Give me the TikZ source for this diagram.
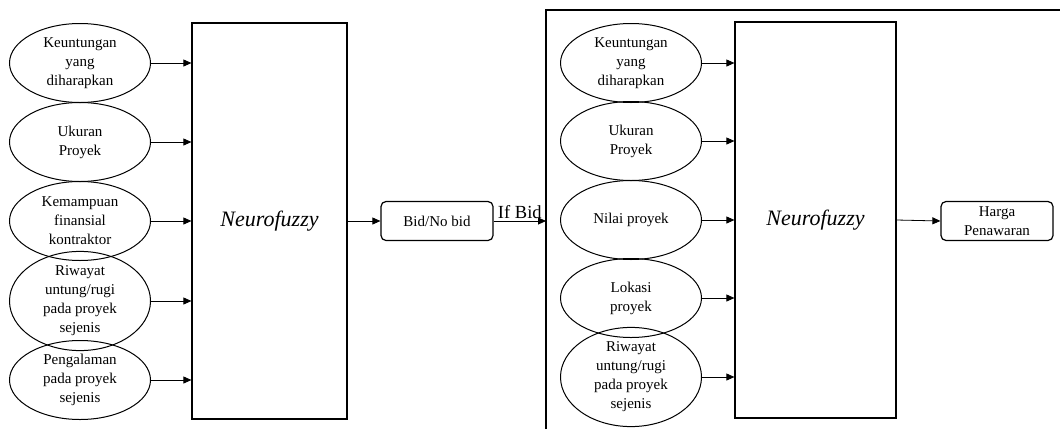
\documentclass[tikz,border=0pt]{standalone}
\usepackage{fontspec}
\setmainfont{Liberation Serif}
\usetikzlibrary{shapes.geometric,arrows.meta}
\begin{document}
\begin{tikzpicture}[x=1pt,y=-1pt,
  ell/.style={draw,line width=1pt,ellipse,minimum width=141pt,minimum height=79pt,inner sep=0pt,align=center,font=\fontsize{15}{19}\selectfont},
  bigbox/.style={draw,line width=1.2pt,minimum width=#1,minimum height=396pt,inner sep=0pt,font=\fontsize{22}{26}\selectfont\itshape},
  rbox/.style={draw,line width=1.2pt,rounded corners=5pt,minimum width=112pt,minimum height=39pt,inner sep=0pt,align=center,font=\fontsize{15}{19}\selectfont},
  arr/.style={line width=0.8pt,-{Triangle[length=8pt,width=7pt]}}]
\useasboundingbox (0,0) rectangle (1060,429);
% left panel
\node[ell] (a1) at (80,63) {Keuntungan\\yang\\diharapkan};
\node[ell] (a2) at (80,142) {Ukuran\\Proyek};
\node[ell] (a3) at (80,221) {Kemampuan\\finansial\\kontraktor};
\node[ell] (a4) at (80,301) {Riwayat\\untung/rugi\\pada proyek\\sejenis};
\node[ell] (a5) at (80,380) {Pengalaman\\pada proyek\\sejenis};
\node[bigbox=155pt] (n1) at (269.5,221) {\raisebox{-4pt}{Neurofuzzy}};
\foreach \i in {1,...,5}{\draw[arr] (a\i.east) -- (a\i.east -| n1.west);}
\node[rbox] (bid) at (437,221) {Bid/No bid};
\draw[arr] (n1.east) -- (bid.west);
% right frame
\coordinate (fr) at (546,221);
\draw[line width=1.2pt] (546,429) -- (546,10) -- (1060,10);
\draw[arr] (bid.east) -- (fr) node[midway,above=-1pt,font=\fontsize{18.5}{20}\selectfont] {If Bid};
% right panel
\node[ell] (b1) at (631,63) {Keuntungan\\yang\\diharapkan};
\node[ell] (b2) at (631,141) {Ukuran\\Proyek};
\node[ell] (b3) at (631,220) {Nilai proyek};
\node[ell] (b4) at (631,298) {Lokasi\\proyek};
\node[ell] (b5) at (631,377) {Riwayat\\untung/rugi\\pada proyek\\sejenis};
\node[bigbox=161pt] (n2) at (815.5,220) {\raisebox{-4pt}{Neurofuzzy}};
\foreach \i in {1,...,5}{\draw[arr] (b\i.east) -- (b\i.east -| n2.west);}
\node[rbox] (hp) at (997,221) {Harga\\Penawaran};
\draw[arr] (n2.east) -- (hp.west);
\end{tikzpicture}
\end{document}
